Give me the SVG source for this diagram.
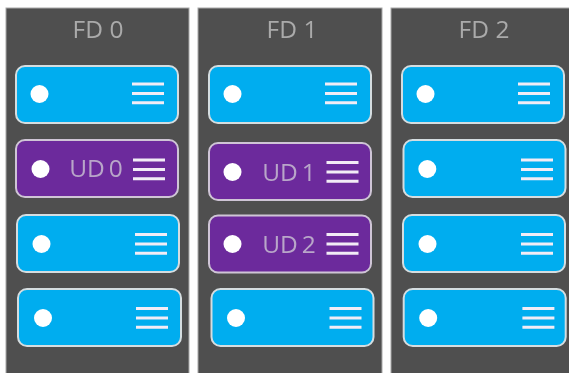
<svg xmlns="http://www.w3.org/2000/svg" xmlns:xlink="http://www.w3.org/1999/xlink" width="569" height="373" viewBox="0 0 569 373">
<style>
.panel{fill:#505050;stroke:#a8a8a8;stroke-width:1}
.t{font-family:"Open Sans","Noto Sans",sans-serif;font-size:24.500px;fill:#aaaaaa;text-anchor:middle}
.ud{font-family:"Open Sans","Noto Sans",sans-serif;font-size:24.500px;fill:#b9a6c9;text-anchor:middle;word-spacing:-2.500px}
.blue{fill:#00adef;stroke:#d5dde0;stroke-width:2}
.purple{fill:#6c2c9c;stroke:#cfc5d6;stroke-width:2}
.l{stroke:#f2ecf6;stroke-width:3;fill:none}
.d{fill:#fff}
</style>
<defs>
<filter id="soft" x="-5%" y="-5%" width="110%" height="110%"><feGaussianBlur stdDeviation="0.6"/></filter>
<circle id="dot" class="d" cx="23.500" cy="28" r="9"/>
<path id="bars" class="l" d="M116 18H148M116 27.500H148M116 36.700H148"/>
</defs>
<rect width="569" height="373" fill="#fff"/>
<g filter="url(#soft)">
<g id="fd0"><rect class="panel" x="6" y="8" width="183" height="370"/><text class="t" x="98" y="38">FD 0</text></g>
<g id="fd1"><rect class="panel" x="198" y="8" width="184" height="370"/><text class="t" x="292" y="38">FD 1</text></g>
<g id="fd2"><rect class="panel" x="391" y="8" width="185" height="370"/><text class="t" x="484" y="38">FD 2</text></g>

<g id="s00" transform="translate(16,66)"><rect class="blue" width="162" height="57" rx="9"/><use xlink:href="#dot"/><use xlink:href="#bars"/></g>
<g id="s01" transform="translate(16,140)"><rect class="purple" width="162" height="57" rx="9"/><use xlink:href="#dot" x="1" y="1"/><use xlink:href="#bars" x="1" y="2"/><text class="ud" x="80" y="37">UD 0</text></g>
<g id="s02" transform="translate(17,215)"><rect class="blue" width="162" height="57" rx="9"/><use xlink:href="#dot" x="1" y="1"/><use xlink:href="#bars" x="2" y="1.500"/></g>
<g id="s03" transform="translate(18,289)"><rect class="blue" width="163" height="57" rx="9"/><use xlink:href="#dot" x="1.500" y="1"/><use xlink:href="#bars" x="2" y="1.500"/></g>

<g id="s10" transform="translate(209,66)"><rect class="blue" width="162" height="57" rx="9"/><use xlink:href="#dot"/><use xlink:href="#bars"/></g>
<g id="s11" transform="translate(209,143)"><rect class="purple" width="162" height="57" rx="9"/><use xlink:href="#dot" y="1"/><use xlink:href="#bars" x="1.500" y="1.500"/><text class="ud" x="80" y="38">UD 1</text></g>
<g id="s12" transform="translate(209,215.500)"><rect class="purple" width="162" height="57" rx="9"/><use xlink:href="#dot" y="0.500"/><use xlink:href="#bars" x="1.500" y="1"/><text class="ud" x="80" y="37.500">UD 2</text></g>
<g id="s13" transform="translate(211.500,289)"><rect class="blue" width="162" height="57" rx="9"/><use xlink:href="#dot" x="1" y="1"/><use xlink:href="#bars" x="2" y="1.500"/></g>

<g id="s20" transform="translate(402,66)"><rect class="blue" width="162" height="57" rx="9"/><use xlink:href="#dot"/><use xlink:href="#bars"/></g>
<g id="s21" transform="translate(403.500,140)"><rect class="blue" width="162" height="57" rx="9"/><use xlink:href="#dot" x="0.300" y="1"/><use xlink:href="#bars" x="1.500" y="2"/></g>
<g id="s22" transform="translate(403,215)"><rect class="blue" width="162" height="57" rx="9"/><use xlink:href="#dot" x="1" y="1"/><use xlink:href="#bars" x="2" y="1.500"/></g>
<g id="s23" transform="translate(403.700,289)"><rect class="blue" width="162" height="57" rx="9"/><use xlink:href="#dot" x="1" y="1"/><use xlink:href="#bars" x="2.700" y="1.500"/></g>
</g>
</svg>
